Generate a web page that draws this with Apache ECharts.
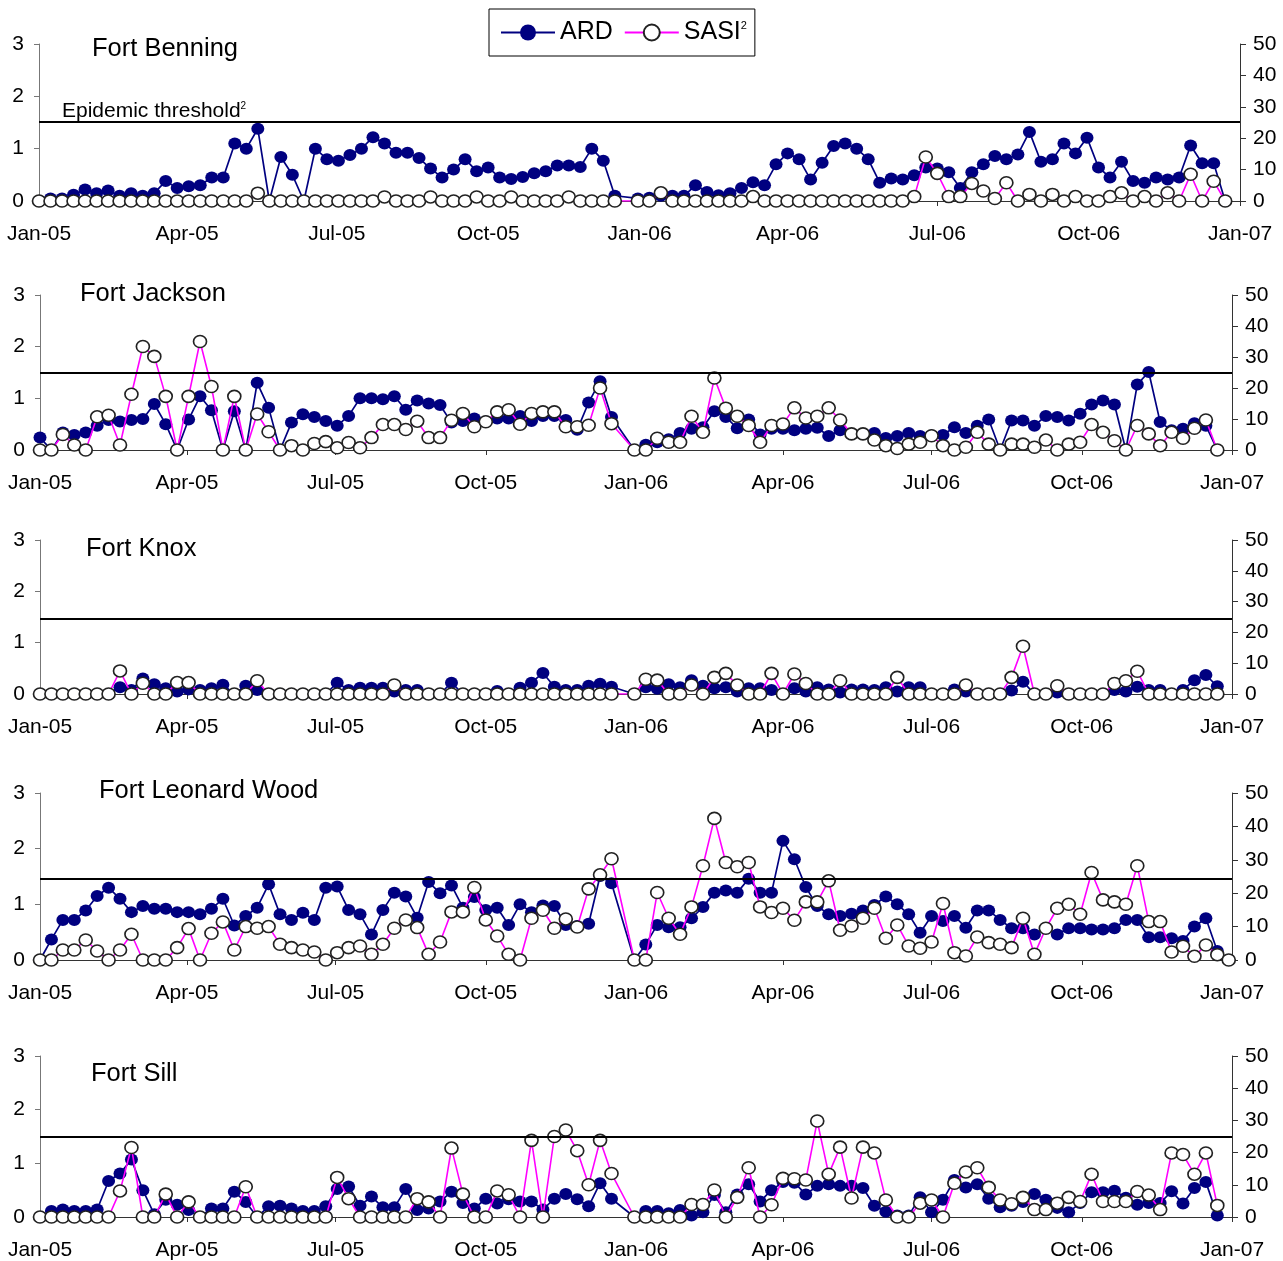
<!DOCTYPE html>
<html><head><meta charset="utf-8">
<script src="https://cdn.jsdelivr.net/npm/echarts@6/dist/echarts.min.js"></script>
<style>html,body{margin:0;padding:0;background:#fff}#c{width:1283px;height:1261px}</style>
</head><body><div id="c"></div>
<script>
// ---------- data ----------
const weekStart = '2005-01-01';
const weekCount = 105;
const tickDates = ['2005-01-01','2005-04-01','2005-07-01','2005-10-01','2006-01-01','2006-04-01','2006-07-01','2006-10-01','2007-01-01'];
const tickLabels = ['Jan-05','Apr-05','Jul-05','Oct-05','Jan-06','Apr-06','Jul-06','Oct-06','Jan-07'];
const sites = ['Fort Benning','Fort Jackson','Fort Knox','Fort Leonard Wood','Fort Sill'];
const thresholds = [1.51, 1.49, 1.46, 1.46, 1.5];
const ardMax = 3, ardStep = 1, sasiMax = 50, sasiStep = 10;

const ardBenning = [
 0,0.05,0.05,0.12,0.22,0.15,0.2,0.1,0.15,0.1,
 0.15,0.38,0.25,0.28,0.3,0.45,0.45,1.1,1.0,1.38,
 0,0.84,0.5,0,1.0,0.8,0.77,0.88,1.0,1.22,
 1.1,0.92,0.92,0.82,0.62,0.45,0.6,0.8,0.57,0.64,
 0.45,0.42,0.46,0.53,0.57,0.68,0.68,0.65,1.0,0.77,
 0.1,null,
 0.05,0.06,0.1,0.1,0.1,0.3,0.17,0.11,0.15,0.25,
 0.36,0.3,0.7,0.91,0.8,0.41,0.73,1.05,1.1,1.0,
 0.8,0.35,0.43,0.41,0.49,0.64,0.62,0.55,0.25,0.55,
 0.7,0.86,0.8,0.89,1.32,0.75,0.8,1.1,0.91,1.21,
 0.64,0.45,0.75,0.38,0.35,0.45,0.41,0.45,1.06,0.72,
 0.72,0,null];
const sasiBenning = [
 0,0,0,0,0,0,0,0,0,0,
 0,0,0,0,0,0,0,0,0,2.5,
 0,0,0,0,0,0,0,0,0,0,
 1.3,0,0,0,1.3,0,0,0,1.3,0,
 0,1.3,0,0,0,0,1.3,0,0,0,
 0,null,
 0,0,2.6,0,0,0,0,0,0,0,
 1.4,0,0,0,0,0,0,0,0,0,
 0,0,0,0,1.4,14,8.8,1.4,1.4,5.6,
 3.2,0.8,5.8,0,2.1,0,2.1,0,1.4,0,
 0,1.4,2.6,0,1.4,0,2.6,0,8.5,0,
 6.3,0,null];

const ardJackson = [
 0.24,0,0.34,0.29,0.34,0.47,0.58,0.55,0.58,0.6,
 0.89,0.5,0,0.59,1.04,0.77,0,0.75,0,1.3,
 0.82,0,0.53,0.69,0.64,0.56,0.47,0.66,1.0,1.0,
 0.98,1.04,0.78,0.96,0.9,0.87,0.53,0.56,0.61,0.55,
 0.61,0.61,0.66,0.56,0.66,0.66,0.58,0.39,0.92,1.33,
 0.64,null,
 0,0.1,0.15,0.21,0.33,0.41,0.44,0.75,0.64,0.42,
 0.59,0.3,0.41,0.41,0.38,0.41,0.43,0.27,0.38,0.31,
 0.31,0.33,0.23,0.27,0.33,0.27,0.28,0.29,0.44,0.33,
 0.47,0.59,0,0.57,0.57,0.47,0.66,0.64,0.57,0.7,
 0.88,0.96,0.88,0,1.27,1.51,0.54,0.38,0.41,0.52,
 0.47,0,null];
const sasiJackson = [
 0,0,5,1.6,0,10.7,11.2,1.6,18,33.4,
 30.2,17.3,0,17.3,35,20.5,0,17.3,0,11.6,
 5.9,0,1.4,0,2.1,2.7,0.7,2.4,0.7,4,
 8.2,8.2,6.6,9.3,4,4,9.6,11.8,7.5,9.1,
 12.3,13,8.3,11.8,12.3,12.3,7.5,7.5,8,20,
 8.5,null,
 0,0,3.8,2.5,2.5,10.9,5.7,23.2,13.5,10.9,
 7.9,2.5,7.9,8.4,13.6,10.3,10.9,13.6,9.7,5.2,
 5.2,3.2,1.4,0.5,1.9,2.5,4.6,1.4,0,0.9,
 5.7,1.9,0,1.9,1.9,0.9,3.2,0,1.9,2.5,
 8.2,5.7,3,0,7.9,5.2,1.4,5.7,3.8,7,
 9.7,0,null];

const ardKnox = [
 0,0,0,0,0,0,0,0.13,0.08,0.3,
 0.19,0.11,0.05,0.09,0.08,0.11,0.18,0,0.16,0.08,
 0,0,0,0,0,0,0.22,0.08,0.12,0.12,
 0.12,0.05,0.08,0.08,0,0,0.22,0,0,0,
 0.06,0,0.12,0.22,0.41,0.14,0.08,0.08,0.16,0.2,
 0.14,null,
 0,0.13,0.1,0.19,0.13,0.27,0.16,0.11,0.13,0.05,
 0.11,0.11,0.08,0,0.11,0.05,0.13,0.09,0.03,0.09,
 0.09,0.08,0.13,0.05,0.13,0.13,0,0,0.09,0.05,
 0,0,0,0.07,0.24,0,0,0.03,0,0,
 0,0,0.08,0.05,0.14,0.08,0.08,0,0.08,0.27,
 0.37,0.15,null];
const sasiKnox = [
 0,0,0,0,0,0,0,7.5,0,3.5,
 0,0,3.7,3.7,0,0,0,0,0,4.3,
 0,0,0,0,0,0,0,0,0,0,
 0,2.9,0,0,0,0,0,0,0,0,
 0,0,0,0,0,0,0,0,0,0,
 0,null,
 0,4.8,4.5,0,0,2.9,0,5.4,6.7,2.9,
 0,0,6.7,0,6.5,3.4,0,0,4.3,0,
 0,0,0,5.4,0,0,0,0,0,2.9,
 0,0,0,5.4,15.5,0,0,2.7,0,0,
 0,0,3.4,4.3,7.4,0,0,0,0,0,
 0,0,null];

const ardLeonardWood = [
 0,0.37,0.72,0.72,0.89,1.15,1.3,1.1,0.86,0.97,
 0.92,0.92,0.86,0.86,0.82,0.92,1.1,0.62,0.79,0.94,
 1.36,0.82,0.72,0.85,0.72,1.3,1.32,0.9,0.82,0.46,
 0.9,1.21,1.14,0.76,1.4,1.2,1.34,0.94,1.13,0.9,
 0.94,0.63,1.0,0.86,0.98,0.97,0.63,0.61,0.65,1.51,
 1.38,null,
 0,0.28,0.63,0.59,0.59,0.75,0.95,1.21,1.25,1.21,
 1.46,1.21,1.21,2.14,1.81,1.31,0.97,0.82,0.79,0.83,
 0.89,0.99,1.14,1.0,0.82,0.49,0.79,0.7,0.79,0.58,
 0.89,0.89,0.72,0.57,0.57,0.46,0.57,0.46,0.57,0.57,
 0.55,0.55,0.57,0.72,0.72,0.41,0.41,0.39,0.34,0.6,
 0.75,0.16,0];
const sasiLeonardWood = [
 0,0,3,3,6,2.7,0,3,7.7,0,
 0,0,3.7,9.4,0,8,11.4,3,10,9.5,
 10,4.7,3.7,3,2.4,0,2.2,3.7,4.2,1.7,
 4.7,9.5,12,9.7,1.7,5.4,14.4,14.4,21.7,12,
 7.2,1.7,0,12.5,14.9,9.5,12.3,9.9,21.3,25.5,
 30.3,null,
 0,0,20.2,12.5,7.7,15.9,28.2,42.4,29.2,27.9,
 29.2,15.9,14.2,15.5,11.9,17.4,17.4,23.7,8.9,10.2,
 12.5,15.5,6.5,10.5,4.2,3.5,5.4,16.9,2.2,1.2,
 6.9,5.2,4.7,3.7,12.5,1.7,9.5,15.5,16.7,13.7,
 26.2,18,17.4,16.7,28.2,11.5,11.5,2.4,4.1,1.1,
 4.5,1.6,0];

const ardSill = [
 0,0.11,0.14,0.11,0.11,0.14,0.67,0.81,1.07,0.5,
 0.05,0.32,0.23,0.13,0,0.16,0.16,0.47,0.28,0,
 0.2,0.21,0.16,0.11,0.11,0.2,0.52,0.57,0.21,0.38,
 0.18,0.18,0.52,0.13,0.16,0.29,0.47,0.26,0.16,0.34,
 0.25,0.33,0.29,0.29,0.14,0.34,0.43,0.33,0.2,0.63,
 0.34,null,
 0,0.11,0.11,0.07,0.13,0.03,0.09,0.41,0.09,0.42,
 0.61,0.29,0.5,0.65,0.64,0.42,0.58,0.61,0.58,0.58,
 0.54,0.21,0.1,0.03,0.03,0.37,0.09,0.32,0.69,0.55,
 0.61,0.34,0.18,0.21,0.28,0.43,0.32,0.17,0.09,0.26,
 0.46,0.46,0.49,0.36,0.23,0.26,0.26,0.48,0.25,0.54,
 0.65,0.03,null];
const sasiSill = [
 0,0,0,0,0,0,0,8.1,21.6,0,
 0,7.1,0,4.7,0,0,0,0,9.4,0,
 0,0,0,0,0,0,12.3,5.7,0,0,
 0,0,0,5.7,4.7,0,21.4,7.1,0,0,
 8.1,6.9,0,23.8,0,25,27,20.6,10,23.8,
 13.5,null,
 0,0,0,0,0,3.9,3.9,8.4,0,6.1,
 15.3,0,3.8,12,11.9,11.5,29.8,13.3,21.7,5.9,
 21.7,19.9,5.3,0,0,4.3,5.3,0,10.5,14,
 15.3,9.2,5.3,4.1,6.1,2.3,2.3,4.3,6.1,4.8,
 13.3,4.8,4.8,4.8,7.9,6.8,2.3,19.9,19.4,13.3,
 19.9,3.6,null];

const ardSeries = [ardBenning, ardJackson, ardKnox, ardLeonardWood, ardSill];
const sasiSeries = [sasiBenning, sasiJackson, sasiKnox, sasiLeonardWood, sasiSill];

// ---------- helpers ----------
function dayOf(s) {
  const [y, m, d] = s.split('-').map(Number);
  const [y0, m0, d0] = weekStart.split('-').map(Number);
  return Math.round((Date.UTC(y, m - 1, d) - Date.UTC(y0, m0 - 1, d0)) / 86400000);
}
const weekDays = Array.from({length: weekCount}, (_, i) => 7 * i);
const tickDays = tickDates.map(dayOf);
const labelByDay = {};
tickDays.forEach((d, i) => { labelByDay[d] = tickLabels[i]; });
const xMin = tickDays[0], xMax = tickDays[tickDays.length - 1];
function pairs(arr) {
  const out = [];
  arr.forEach((v, i) => { if (v !== null && v !== undefined) out.push([weekDays[i], v]); });
  return out;
}

// ---------- layout / style ----------
const FONT = "'Liberation Sans', Arial, Helvetica, sans-serif";
const layout = [
  {left: 39, right: 43, top: 44, height: 157, titleLeft: 92, titleTop: 35},
  {left: 40, right: 51, top: 295, height: 155, titleLeft: 80, titleTop: 280},
  {left: 40, right: 51, top: 540, height: 154, titleLeft: 86, titleTop: 535},
  {left: 40, right: 51, top: 793, height: 167, titleLeft: 99, titleTop: 777},
  {left: 40, right: 51, top: 1056, height: 164, titleLeft: 91, titleTop: 1060}
];
const AXIS_COLOR = '#333';

const grids = [], xAxes = [], yAxes = [], series = [], titles = [];
layout.forEach((L, p) => {
  grids.push({left: L.left, right: L.right, top: L.top, height: L.height, containLabel: false});
  titles.push({text: sites[p], left: L.titleLeft, top: L.titleTop, padding: 0,
    textStyle: {fontSize: 25.5, fontWeight: 'normal', color: '#000', fontFamily: FONT, lineHeight: 28}});
  xAxes.push({
    gridIndex: p, type: 'value', min: xMin, max: xMax,
    axisLine: {show: true, onZero: false, lineStyle: {color: AXIS_COLOR, width: 1}},
    axisTick: {show: true, customValues: tickDays, length: 5, lineStyle: {color: AXIS_COLOR}},
    axisLabel: {customValues: tickDays, formatter: v => labelByDay[Math.round(v)] || '',
      fontSize: 21, margin: 23, color: '#000', fontFamily: FONT, showMinLabel: true, showMaxLabel: true},
    splitLine: {show: false}
  });
  yAxes.push({
    gridIndex: p, type: 'value', min: 0, max: ardMax, interval: ardStep, position: 'left',
    axisLine: {show: true, lineStyle: {color: '#777', width: 1}},
    axisTick: {show: true, length: 5, lineStyle: {color: '#777'}},
    axisLabel: {fontSize: 21, margin: 15, color: '#000', fontFamily: FONT},
    splitLine: {show: false}
  });
  yAxes.push({
    gridIndex: p, type: 'value', min: 0, max: sasiMax, interval: sasiStep, position: 'right',
    axisLine: {show: true, lineStyle: {color: AXIS_COLOR, width: 1}},
    axisTick: {show: true, length: 6, lineStyle: {color: AXIS_COLOR}},
    axisLabel: {fontSize: 21, margin: 13, color: '#000', fontFamily: FONT},
    splitLine: {show: false}
  });
  series.push({
    type: 'line', name: 'ARD', xAxisIndex: p, yAxisIndex: 2 * p,
    data: pairs(ardSeries[p]), symbol: 'circle', symbolSize: [13, 12], showAllSymbol: true,
    itemStyle: {color: '#000080'}, lineStyle: {color: '#000080', width: 1.7}, z: 2,
    markLine: {
      silent: true, symbol: ['none', 'none'], animation: false,
      lineStyle: {color: '#000', width: 2, type: 'solid'},
      label: p === 0 ? {
        show: true, position: 'insideStartTop', distance: 0, padding: [0, 0, 0, 23],
        formatter: 'Epidemic threshold{sup|2}', color: '#000', fontSize: 21, fontFamily: FONT,
        rich: {sup: {fontSize: 10, verticalAlign: 'top', color: '#000', fontFamily: FONT}}
      } : {show: false},
      data: [{yAxis: thresholds[p]}]
    }
  });
  series.push({
    type: 'line', name: 'SASI', xAxisIndex: p, yAxisIndex: 2 * p + 1,
    data: pairs(sasiSeries[p]), symbol: 'circle', symbolSize: [13, 12], showAllSymbol: true,
    itemStyle: {color: '#fff', borderColor: '#222', borderWidth: 1.6},
    lineStyle: {color: '#ff00ff', width: 1.6}, z: 3
  });
});

const chart = echarts.init(document.getElementById('c'), null, {renderer: 'canvas'});
chart.setOption({
  animation: false,
  backgroundColor: '#fff',
  title: titles,
  legend: {
    data: ['ARD', 'SASI'], left: 489, top: 9, padding: [11, 8, 11, 11], itemGap: 11,
    itemWidth: 54, itemHeight: 20, borderColor: '#000', borderWidth: 1,
    selectedMode: false,
    formatter: n => n === 'SASI' ? 'SASI{sup|2}' : n,
    textStyle: {fontSize: 25, color: '#000', fontFamily: FONT,
      rich: {sup: {fontSize: 11, verticalAlign: 'top', color: '#000', fontFamily: FONT}}}
  },
  grid: grids, xAxis: xAxes, yAxis: yAxes, series: series
});
</script></body></html>
